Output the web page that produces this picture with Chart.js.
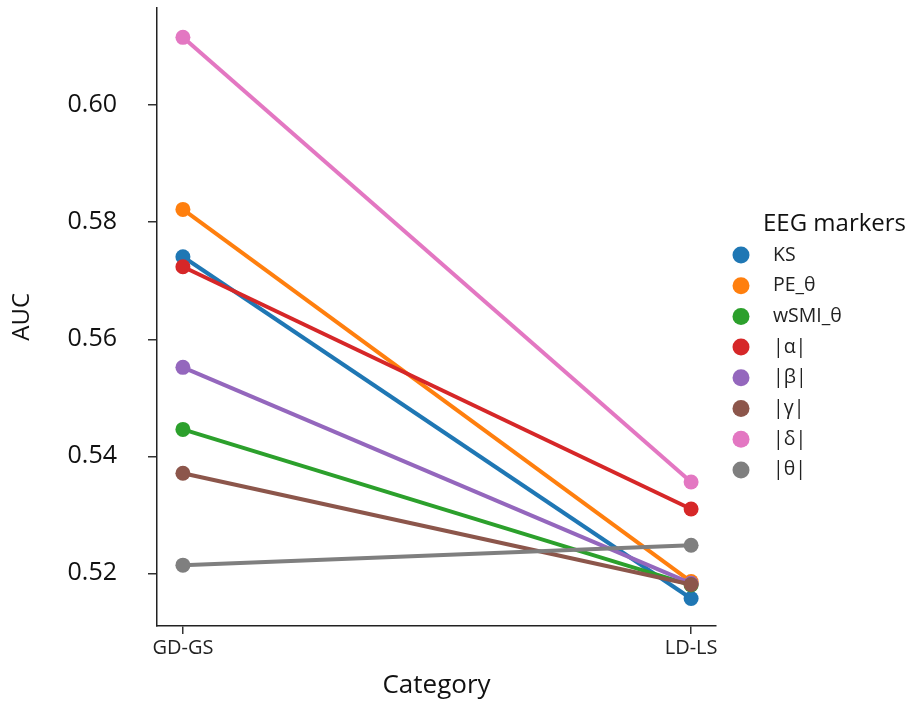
<!DOCTYPE html>
<html>
<head>
<meta charset="utf-8">
<script src="https://cdn.jsdelivr.net/npm/chart.js@4"></script>
<style>
  html, body { margin: 0; padding: 0; background: #fff; }
  #wrap { width: 917px; height: 702px; }
</style>
</head>
<body>
<div id="wrap"><canvas id="chart" width="917" height="702"></canvas></div>
<script>
const categories = ['GD-GS', 'LD-LS']
const markers = ['KS', 'PE_θ', 'wSMI_θ', '|α|', '|β|', '|γ|', '|δ|', '|θ|']
const colors = ['#1f77b4', '#ff7f0e', '#2ca02c', '#d62728', '#9467bd', '#8c564b', '#e377c2', '#7f7f7f']

// AUC per marker, [GD-GS, LD-LS]
const ks = [0.5741, 0.5157]
const peTheta = [0.5822, 0.5186]
const wsmiTheta = [0.5446, 0.5180]
const alpha = [0.5724, 0.5310]
const beta = [0.5552, 0.5183]
const gamma = [0.5371, 0.5181]
const delta = [0.6116, 0.5356]
const theta = [0.5214, 0.5248]

const yTicks = [0.52, 0.54, 0.56, 0.58, 0.60]

const series = [ks, peTheta, wsmiTheta, alpha, beta, gamma, delta, theta]
const FONT = '"Open Sans", Lato, sans-serif'

const datasets = series.map((vals, i) => ({
  label: markers[i],
  data: vals.map((v, j) => ({ x: j, y: v })),
  borderColor: colors[i],
  backgroundColor: colors[i],
  borderWidth: 4,
  pointRadius: 7.5,
  pointHoverRadius: 7.5,
  pointBorderWidth: 0,
  order: -i // later series on top, like the original
}))

// legend drawn by hand so its place matches the picture
const sideLegend = {
  id: 'sideLegend',
  afterDraw(chart) {
    const ctx = chart.ctx
    ctx.save()
    ctx.fillStyle = '#111'
    ctx.textBaseline = 'middle'
    ctx.textAlign = 'left'
    ctx.font = '24px ' + FONT
    ctx.fillText('EEG markers', 763, 224)
    ctx.font = '19.5px ' + FONT
    chart.data.datasets.forEach((ds, i) => {
      const y = 255 + i * 30.7
      ctx.beginPath()
      ctx.fillStyle = ds.backgroundColor
      ctx.arc(741, y, 8.5, 0, Math.PI * 2)
      ctx.fill()
      ctx.fillStyle = '#222'
      ctx.fillText(ds.label, 773, y)
    })
    ctx.restore()
  }
}

new Chart(document.getElementById('chart'), {
  type: 'line',
  data: { datasets },
  plugins: [sideLegend],
  options: {
    responsive: false,
    animation: false,
    layout: { padding: { top: 5, right: 201, left: 0, bottom: 0 } },
    plugins: {
      legend: { display: false },
      tooltip: { enabled: false }
    },
    scales: {
      x: {
        type: 'linear',
        min: -0.051,
        max: 1.049,
        afterBuildTicks: scale => { scale.ticks = categories.map((c, i) => ({ value: i })) },
        afterFit: scale => { scale.height = 76; scale.paddingLeft = 0; scale.paddingRight = 0 },
        ticks: {
          callback: v => categories[v],
          font: { family: FONT, size: 20 },
          color: '#222',
          padding: 2,
          maxRotation: 0
        },
        grid: { display: true, drawOnChartArea: false, drawTicks: true, tickLength: 8, color: '#333', lineWidth: 1.5 },
        border: { display: true, color: '#222', width: 1.5 },
        title: {
          display: true,
          text: 'Category',
          font: { family: FONT, size: 26 },
          color: '#111',
          padding: { top: 0, bottom: 1 }
        }
      },
      y: {
        min: 0.511,
        max: 0.6167,
        afterBuildTicks: scale => { scale.ticks = yTicks.map(v => ({ value: v })) },
        // tick padding would otherwise push the plot area down
        afterFit: scale => { scale.width = 157; scale.paddingTop = 0; scale.paddingBottom = 0 },
        ticks: {
          callback: v => v.toFixed(2),
          font: { family: FONT, size: 25 },
          color: '#111',
          padding: 31
        },
        grid: { display: true, drawOnChartArea: false, drawTicks: true, tickLength: 9, color: '#333', lineWidth: 1.5 },
        border: { display: true, color: '#222', width: 1.5 },
        title: {
          display: true,
          text: 'AUC',
          font: { family: FONT, size: 24 },
          color: '#111',
          padding: { top: 8, bottom: 0 }
        }
      }
    }
  }
})
</script>
</body>
</html>
